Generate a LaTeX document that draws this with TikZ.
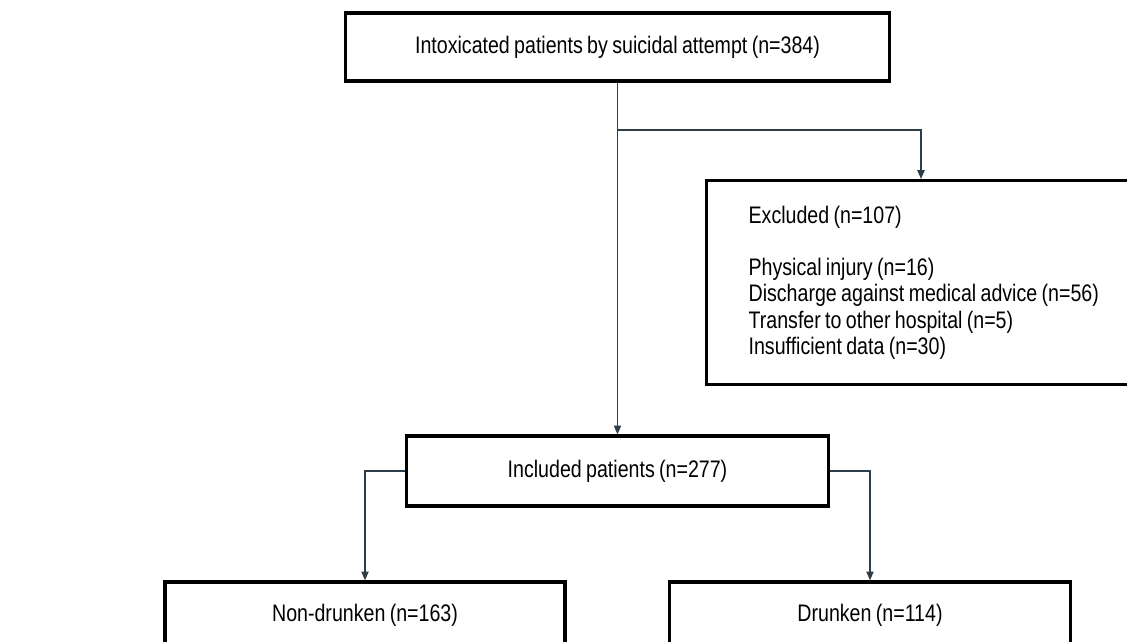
\documentclass[tikz,border=0pt]{standalone}
\usepackage{fontspec}
\setmainfont[FakeStretch=0.82,WordSpace=0.8]{Liberation Sans}
\usetikzlibrary{arrows.meta}
\definecolor{linkgray}{RGB}{45,62,75}

\begin{document}
\begin{tikzpicture}[
  x=0.025cm, y=-0.025cm,
  box/.style={
    draw=black, line width=2.3pt, rectangle, fill=white,
    font=\fontsize{17}{18.6}\selectfont, align=center, inner sep=0pt
  },
  listbox/.style={
    box, anchor=north west, align=flush left,
    text width=9.6cm, inner xsep=1.05cm, minimum height=5.1cm
  },
  arr/.style={draw=linkgray, line width=0.95pt, -{Triangle[length=0.22cm,width=0.18cm]}},
]
\useasboundingbox (0,0) rectangle (1127,642);

\node[box, minimum width=13.6cm, minimum height=1.7cm] (intox) at (617.5,47) {Intoxicated patients by suicidal attempt (n=384)};

\node[listbox] (excl) at (705,179) {Excluded (n=107)\\[18.6pt]
  Physical injury (n=16)\\
  Discharge against medical advice (n=56)\\
  Transfer to other hospital (n=5)\\
  Insufficient data (n=30)};

\node[box, minimum width=10.55cm, minimum height=1.75cm] (incl) at (617.5,471) {Included patients (n=277)};

\node[box, minimum width=10cm, minimum height=1.65cm] (nondr) at (365,615) {Non-drunken (n=163)};
\node[box, minimum width=10.03cm, minimum height=1.65cm] (drunk) at (870,615) {Drunken (n=114)};

\coordinate (split) at (921,130);

\draw[arr] (intox) -- (incl);
\draw[arr] (intox.south |- split) -- (split) -- (split |- excl.north);
\draw[arr] (incl.west) -| (nondr.north);
\draw[arr] (incl.east) -| (drunk.north);

\end{tikzpicture}
\end{document}
